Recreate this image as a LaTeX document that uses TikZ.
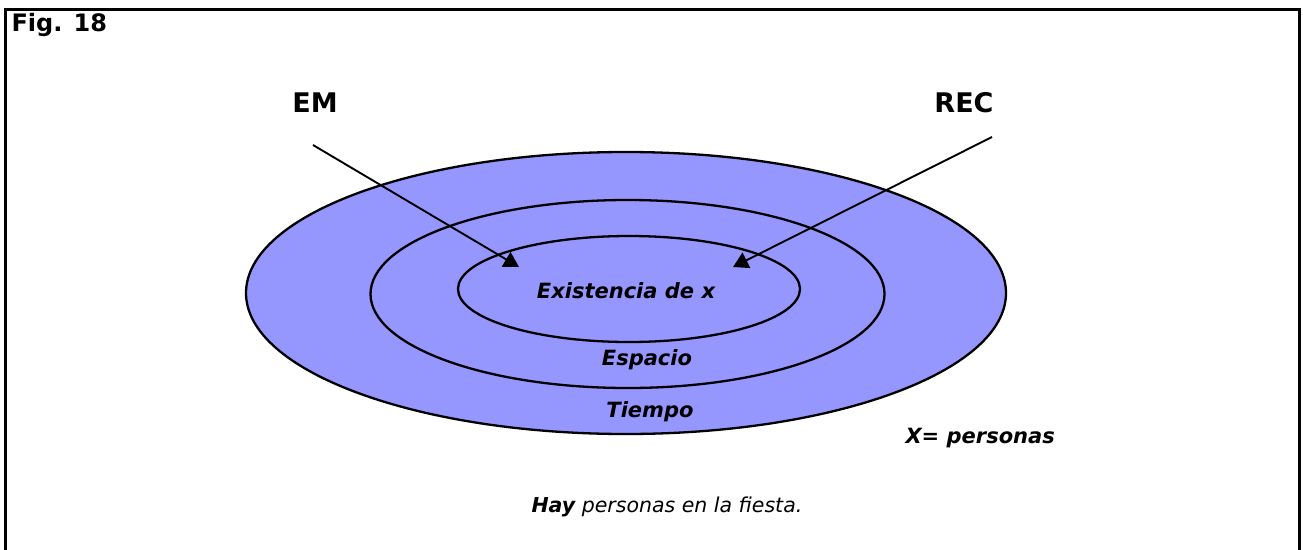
\documentclass[tikz,border=0pt]{standalone}
\usepackage{fontspec}
\setmainfont{DejaVu Sans}
\usetikzlibrary{arrows.meta}
\definecolor{lila}{RGB}{150,150,255}

\begin{document}
\begin{tikzpicture}[x=1pt,y=-1pt,
        anillo/.style={draw,line width=2.3pt},
        flecha/.style={line width=1.9pt,-{Triangle[length=15pt,width=17pt]}},
        grande/.style={font=\fontsize{27}{30}\selectfont\bfseries},
        texto/.style={font=\fontsize{21}{25}\selectfont\bfseries\itshape}]
        \useasboundingbox (0,0) rectangle (1303,549);

        % marco
        \draw[line width=3pt] (5.5,560) -- (5.5,9) -- (1299,9) -- (1299,560);
        \node[anchor=west,font=\fontsize{24}{28}\selectfont\bfseries] (fig) at (8,25) {Fig. 18};

        % anillos
        \draw[anillo,fill=lila] (626,293) ellipse [x radius=380,y radius=141];
        \draw[anillo] (627.5,294) ellipse [x radius=257,y radius=94];
        \draw[anillo] (629,289) ellipse [x radius=171,y radius=53];

        \node[texto] (existencia) at (626,291) {Existencia de x};
        \node[texto] (espacio) at (647,360) {Espacio};
        \node[texto] (tiempo) at (650,412) {Tiempo};

        % emisor y receptor
        \node[grande] (em) at (315,103) {EM};
        \node[grande] (rec) at (964,103) {REC};
        \coordinate (emIni) at (313,145);
        \coordinate (emFin) at (519,267);
        \coordinate (recIni) at (992,137);
        \coordinate (recFin) at (733,267);
        \draw[flecha] (emIni) -- (emFin);
        \draw[flecha] (recIni) -- (recFin);

        \node[texto,anchor=west] (equis) at (902,438) {X= personas};
        \node[anchor=west,font=\fontsize{20.5}{25}\selectfont\itshape] (frase) at (528,507)
        {\textbf{Hay} personas en la fiesta.};
    \end{tikzpicture}
\end{document}
